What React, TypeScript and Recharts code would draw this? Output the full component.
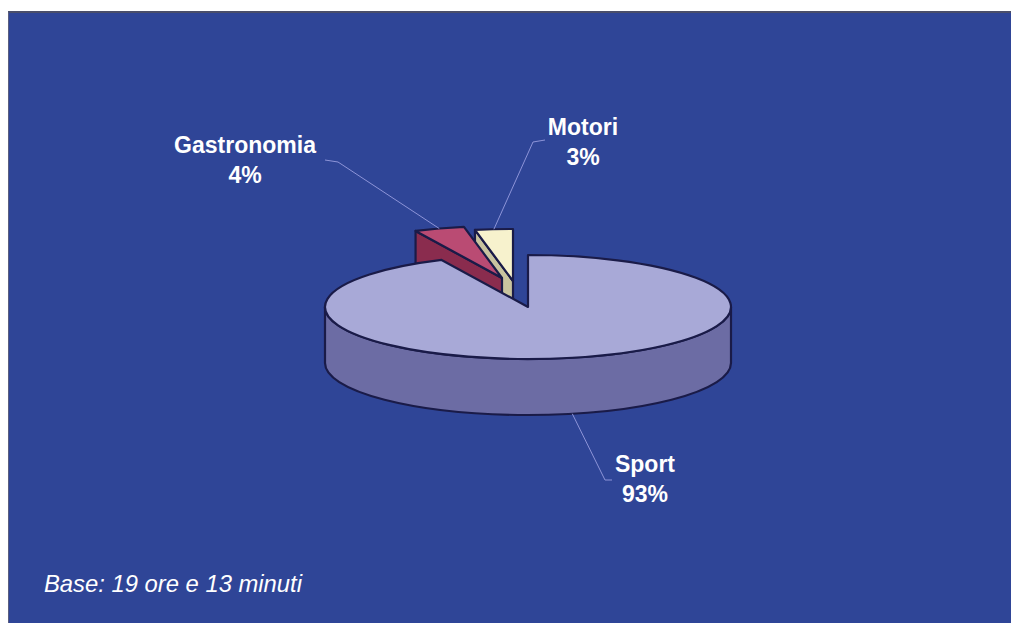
import { PieChart, Pie } from "recharts";

// quote di tempo per genere
const categories = ["Motori", "Gastronomia", "Sport"];
const shares = [3, 4, 93];

const data = categories.map((name, i) => ({ name, value: shares[i] }));

const TILT = 52 / 203;
const DEPTH = 56;
const RAD = Math.PI / 180;

const colors: any = {
  Motori: { top: "#F7F2CD", side: "#C9C49F" },
  Gastronomia: { top: "#BA4B73", side: "#8A2C4E" },
  Sport: { top: "#A8A9D7", side: "#6C6CA4" },
};

// spostamento delle fette staccate
const explode: any = {
  Motori: [-15, -26],
  Gastronomia: [-26, -29],
  Sport: [0, 0],
};

// posizione etichette: testo, gomito e fine della linea guida
const labelPos: any = {
  Motori: { x: 583, y: 135, elbow: [533, 142], end: [545, 140] },
  Gastronomia: { x: 245, y: 153, elbow: [338, 162], end: [325, 160] },
  Sport: { x: 645, y: 472, elbow: [605, 480], end: [612, 480] },
};

const OUTLINE = "#1A1B48";

function geom(props: any) {
  const { cx, cy, outerRadius, name } = props;
  const [ox, oy] = explode[name] || [0, 0];
  const x0 = cx + ox;
  const y0 = cy + oy;
  const rx = outerRadius;
  const ry = outerRadius * TILT;
  const P = (a: number, d = 0) => [x0 + rx * Math.cos(a * RAD), y0 - ry * Math.sin(a * RAD) + d];
  return { x0, y0, rx, ry, P };
}

function Slice3D(props: any) {
  const { startAngle: s, endAngle: e, name } = props;
  const { x0, y0, rx, ry, P } = geom(props);
  const c = colors[name];
  const parts: any[] = [];

  const face = (a: number, key: string) => {
    const [px, py] = P(a);
    const d = `M${x0},${y0} L${px},${py} L${px},${py + DEPTH} L${x0},${y0 + DEPTH} Z`;
    return <path key={key} d={d} fill={c.side} stroke={OUTLINE} strokeWidth={2.2} strokeLinejoin="round" />;
  };

  if (Math.cos(e * RAD) < -1e-6) parts.push(face(e, "fe"));
  if (Math.cos(s * RAD) > 1e-6) parts.push(face(s, "fs"));

  [-360, 0, 360].forEach((k) => {
    const a = Math.max(s, 180 + k);
    const b = Math.min(e, 360 + k);
    if (b > a) {
      const [ax, ay] = P(a);
      const [bx, by] = P(b);
      const d = `M${ax},${ay} A${rx},${ry} 0 0 0 ${bx},${by} L${bx},${by + DEPTH} A${rx},${ry} 0 0 1 ${ax},${ay + DEPTH} Z`;
      parts.push(<path key={"r" + k} d={d} fill={c.side} stroke={OUTLINE} strokeWidth={2.2} strokeLinejoin="round" />);
    }
  });

  const [sx, sy] = P(s);
  const [ex, ey] = P(e);
  const large = e - s > 180 ? 1 : 0;
  const top = `M${x0},${y0} L${sx},${sy} A${rx},${ry} 0 ${large} 0 ${ex},${ey} Z`;
  parts.push(<path key="top" d={top} fill={c.top} stroke={OUTLINE} strokeWidth={2.2} strokeLinejoin="round" />);

  return <g>{parts}</g>;
}

function SliceLabel(props: any) {
  const { midAngle, name, percent } = props;
  const { P } = geom(props);
  const front = Math.sin(midAngle * RAD) < 0;
  const [ax, ay] = P(midAngle, front ? DEPTH : 0);
  const lp = labelPos[name];
  return (
    <g>
      <polyline
        points={`${ax},${ay} ${lp.elbow[0]},${lp.elbow[1]} ${lp.end[0]},${lp.end[1]}`}
        fill="none"
        stroke="#8D94D8"
        strokeWidth={1}
      />
      <text
        x={lp.x}
        y={lp.y}
        textAnchor="middle"
        fill="#FFFFFF"
        fontFamily="'Liberation Sans', Arial, sans-serif"
        fontWeight="bold"
        fontSize={23}
      >
        <tspan x={lp.x} y={lp.y}>{name}</tspan>
        <tspan x={lp.x} y={lp.y + 30}>{`${Math.round(percent * 100)}%`}</tspan>
      </text>
    </g>
  );
}

export default function App() {
  return (
    <div style={{ position: "absolute", left: 0, top: 0, width: 1011, height: 623, background: "#FFFFFF", overflow: "hidden" }}>
      <div
        style={{
          position: "absolute",
          left: 8,
          top: 11,
          width: 1003,
          height: 612,
          background: "#2F4597",
          borderTop: "2px solid #4A4E6A",
          borderLeft: "1px solid #5A5E80",
          boxSizing: "border-box",
        }}
      />
      <div style={{ position: "absolute", left: 0, top: 0 }}>
        <PieChart width={1011} height={623} margin={{ top: 0, right: 0, bottom: 0, left: 0 }}>
          <Pie
            data={data}
            dataKey="value"
            nameKey="name"
            cx={528}
            cy={307}
            outerRadius={203}
            startAngle={90}
            endAngle={450}
            fill="transparent"
            stroke="none"
            label={Slice3D}
            labelLine={false}
            isAnimationActive={false}
            legendType="none"
          />
          <Pie
            data={data}
            dataKey="value"
            nameKey="name"
            cx={528}
            cy={307}
            outerRadius={203}
            startAngle={90}
            endAngle={450}
            fill="transparent"
            stroke="none"
            label={SliceLabel}
            labelLine={false}
            isAnimationActive={false}
            legendType="none"
          />
        </PieChart>
      </div>
      <div
        style={{
          position: "absolute",
          left: 44,
          top: 569,
          color: "#FFFFFF",
          fontFamily: "'Liberation Sans', Arial, sans-serif",
          fontStyle: "italic",
          fontSize: 23.8,
          lineHeight: "30px",
          whiteSpace: "nowrap",
        }}
      >
        Base: 19 ore e 13 minuti
      </div>
    </div>
  );
}
